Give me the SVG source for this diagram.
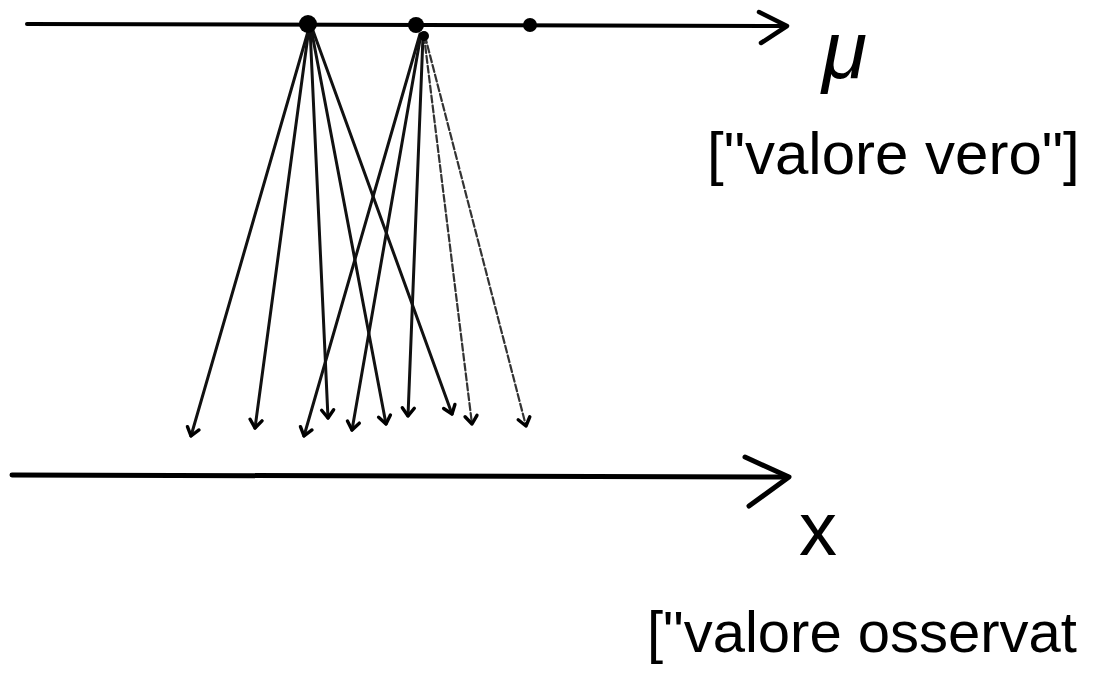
<svg xmlns="http://www.w3.org/2000/svg" width="1107" height="675" viewBox="0 0 1107 675">
  <style>
    .axis { stroke: #000; fill: none; stroke-linecap: round; stroke-linejoin: round; }
    .ray { stroke: #111; fill: none; stroke-width: 3; stroke-linecap: round; }
    .faint { stroke: #333; stroke-width: 2.2; stroke-dasharray: 7 3; }
    .dot { fill: #000; }
    .hand { font-family: "Liberation Sans", Arial, sans-serif; fill: #000; }
  </style>
  <defs>
    <marker id="vhead" markerUnits="userSpaceOnUse" markerWidth="20" markerHeight="20" viewBox="-12 -10 16 20" refX="0" refY="0" orient="auto">
      <path d="M-8,-6 L0,0 L-8,6" fill="none" stroke="#000" stroke-width="3.4" stroke-linecap="round" stroke-linejoin="round"/>
    </marker>
  </defs>
  <rect width="1107" height="675" fill="#fff"/>

  <g id="axis-mu">
    <line class="axis" x1="27" y1="24" x2="786" y2="26" stroke-width="4"/>
    <polyline class="axis" points="759,12 787,26 761,43" stroke-width="4.5"/>
  </g>
  <g id="axis-x">
    <line class="axis" x1="12" y1="475" x2="788" y2="477" stroke-width="5"/>
    <polyline class="axis" points="745,457 789,477 749,506" stroke-width="5"/>
  </g>

  <g id="connectors">
    <line class="ray" x1="309" y1="28" x2="191" y2="436" marker-end="url(#vhead)"/>
    <line class="ray" x1="309" y1="28" x2="255" y2="428" marker-end="url(#vhead)"/>
    <line class="ray" x1="310" y1="28" x2="328" y2="418" marker-end="url(#vhead)"/>
    <line class="ray" x1="311" y1="28" x2="386" y2="424" marker-end="url(#vhead)"/>
    <line class="ray" x1="312" y1="28" x2="452" y2="414" marker-end="url(#vhead)" stroke-width="3.6"/>
    <line class="ray" x1="420" y1="34" x2="304" y2="436" marker-end="url(#vhead)"/>
    <line class="ray" x1="421" y1="34" x2="352" y2="430" marker-end="url(#vhead)"/>
    <line class="ray" x1="423" y1="36" x2="408" y2="416" marker-end="url(#vhead)"/>
    <line class="ray faint" x1="424" y1="36" x2="472" y2="424" marker-end="url(#vhead)"/>
    <line class="ray faint" x1="425" y1="36" x2="526" y2="426" marker-end="url(#vhead)" stroke-width="1.8"/>
  </g>

  <g id="point-1"><circle class="dot" cx="308" cy="24" r="9"/></g>
  <g id="point-2"><circle class="dot" cx="416" cy="25" r="8"/><circle class="dot" cx="424" cy="36" r="5"/></g>
  <g id="point-3"><circle class="dot" cx="530" cy="25" r="7"/></g>

  <g id="label-mu">
    <text class="hand" x="822" y="78" font-size="82" font-style="italic">μ</text>
    <text class="hand" x="707" y="174" font-size="60">["valore vero"]</text>
  </g>
  <g id="label-x">
    <text class="hand" x="799" y="555" font-size="76">x</text>
    <text class="hand" x="647" y="652" font-size="58">["valore osservat</text>
  </g>
</svg>
